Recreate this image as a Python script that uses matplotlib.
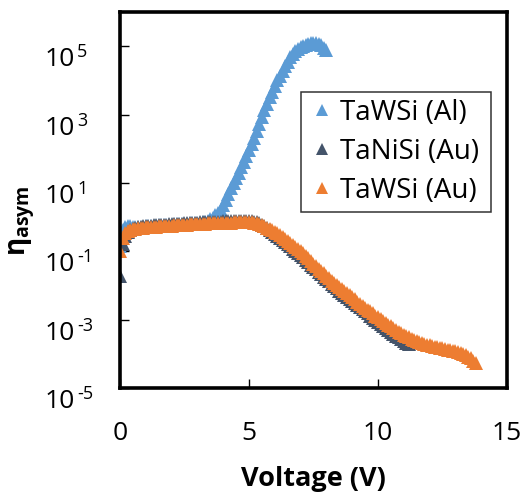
import numpy as np
import matplotlib
matplotlib.use("Agg")
import matplotlib.pyplot as plt
import matplotlib.transforms as mtransforms

plt.rcParams['font.family'] = ['Open Sans', 'DejaVu Sans']
plt.rcParams['mathtext.fontset'] = 'custom'
plt.rcParams['mathtext.rm'] = 'Open Sans'
plt.rcParams['mathtext.bf'] = 'Open Sans:bold'

# ---------------- data (log10 of eta_asym, 0.1 V steps) ----------------
labels = ["TaWSi (Al)", "TaNiSi (Au)", "TaWSi (Au)"]
colors = ["#5B9BD5", "#44546A", "#ED7D31"]

volt_tawsi_al = np.linspace(0.0, 8.0, 81)
log_eta_tawsi_al = [
    -0.85, -0.38, -0.30, -0.27, -0.27, -0.28, -0.29, -0.30, -0.29, -0.28,
    -0.27, -0.26, -0.26, -0.25, -0.25, -0.24, -0.24, -0.23, -0.23, -0.22,
    -0.22, -0.21, -0.21, -0.20, -0.20, -0.19, -0.19, -0.18, -0.18, -0.17,
    -0.17, -0.16, -0.15, -0.13, -0.11, -0.07, -0.02, 0.05, 0.13, 0.22,
    0.35, 0.50, 0.68, 0.85, 1.00, 1.15, 1.30, 1.46, 1.62, 1.78,
    1.95, 2.13, 2.32, 2.52, 2.72, 2.93, 3.13, 3.32, 3.50, 3.67,
    3.84, 4.00, 4.14, 4.28, 4.42, 4.55, 4.67, 4.77, 4.85, 4.92,
    4.97, 5.01, 5.04, 5.06, 5.08, 5.09, 5.09, 5.07, 5.02, 4.96,
    4.90,
]

volt_taNiSi_au = np.linspace(0.0, 11.2, 113)
log_eta_taNiSi_au = [
    -1.72, -0.78, -0.55, -0.45, -0.38, -0.34, -0.31, -0.29, -0.28, -0.27,
    -0.26, -0.25, -0.25, -0.24, -0.24, -0.23, -0.23, -0.22, -0.22, -0.21,
    -0.21, -0.20, -0.20, -0.19, -0.19, -0.18, -0.18, -0.17, -0.17, -0.16,
    -0.16, -0.15, -0.15, -0.15, -0.14, -0.14, -0.14, -0.13, -0.13, -0.13,
    -0.12, -0.12, -0.12, -0.11, -0.11, -0.11, -0.11, -0.11, -0.11, -0.11,
    -0.11, -0.12, -0.13, -0.15, -0.18, -0.22, -0.27, -0.32, -0.38, -0.44,
    -0.50, -0.56, -0.62, -0.68, -0.74, -0.80, -0.86, -0.92, -0.98, -1.05,
    -1.11, -1.18, -1.25, -1.32, -1.39, -1.46, -1.53, -1.60, -1.67, -1.74,
    -1.81, -1.88, -1.95, -2.02, -2.08, -2.15, -2.21, -2.27, -2.33, -2.40,
    -2.46, -2.52, -2.58, -2.64, -2.70, -2.76, -2.82, -2.88, -2.94, -3.00,
    -3.06, -3.12, -3.18, -3.24, -3.30, -3.36, -3.42, -3.47, -3.52, -3.57,
    -3.62, -3.67, -3.72,
]

volt_tawsi_au = np.linspace(0.0, 13.8, 139)
log_eta_tawsi_au = [
    -1.00, -0.62, -0.48, -0.42, -0.38, -0.36, -0.34, -0.33, -0.32, -0.31,
    -0.30, -0.29, -0.29, -0.28, -0.28, -0.27, -0.27, -0.26, -0.26, -0.25,
    -0.25, -0.24, -0.24, -0.23, -0.23, -0.22, -0.22, -0.21, -0.21, -0.20,
    -0.20, -0.20, -0.19, -0.19, -0.18, -0.18, -0.18, -0.17, -0.17, -0.17,
    -0.16, -0.16, -0.16, -0.16, -0.15, -0.15, -0.15, -0.15, -0.15, -0.15,
    -0.15, -0.15, -0.16, -0.17, -0.20, -0.23, -0.27, -0.31, -0.35, -0.39,
    -0.43, -0.47, -0.52, -0.57, -0.63, -0.69, -0.75, -0.81, -0.87, -0.93,
    -0.99, -1.06, -1.14, -1.21, -1.29, -1.37, -1.44, -1.51, -1.58, -1.65,
    -1.72, -1.79, -1.86, -1.93, -1.99, -2.05, -2.11, -2.17, -2.23, -2.29,
    -2.35, -2.41, -2.47, -2.53, -2.59, -2.65, -2.71, -2.76, -2.82, -2.88,
    -2.93, -2.99, -3.04, -3.10, -3.15, -3.20, -3.25, -3.30, -3.35, -3.40,
    -3.44, -3.48, -3.52, -3.56, -3.59, -3.62, -3.65, -3.68, -3.71, -3.73,
    -3.75, -3.77, -3.79, -3.80, -3.82, -3.84, -3.86, -3.88, -3.90, -3.91,
    -3.93, -3.95, -3.98, -4.01, -4.04, -4.08, -4.13, -4.20, -4.28,
]

x_ticks = [0, 5, 10, 15]
y_tick_exponents = [-5, -3, -1, 1, 3, 5]

# ---------------- figure ----------------
fig = plt.figure(figsize=(5.23, 4.93), dpi=100)
ax = fig.add_axes([0.2294, 0.2130, 0.7400, 0.7627])

series = [
    (volt_tawsi_al, log_eta_tawsi_al),
    (volt_taNiSi_au, log_eta_taNiSi_au),
    (volt_tawsi_au, log_eta_tawsi_au),
]
for (v, le), lab, c in zip(series, labels, colors):
    ax.plot(v, 10.0 ** np.asarray(le), linestyle='none', marker='^',
            markersize=9.7, color=c, markeredgewidth=0, label=lab)

ax.set_yscale('log')
ax.set_xlim(0, 15)
ax.set_ylim(1e-5, 1e6)
ax.set_xticks(x_ticks)
ax.set_xticklabels([str(t) for t in x_ticks])
ax.set_yticks([10.0 ** e for e in y_tick_exponents])
ax.set_yticklabels([])
ax.yaxis.set_minor_locator(matplotlib.ticker.NullLocator())

ax.tick_params(axis='both', direction='in', length=6.5, width=1,
               labelsize=19, color='black')
ax.tick_params(axis='x', pad=24)
for sp in ax.spines.values():
    sp.set_linewidth(2.6)

# y tick labels "10" with a raised exponent (hyphen style minus as in the reference)
blend = mtransforms.blended_transform_factory(ax.transAxes, ax.transData)
base_off = blend + mtransforms.ScaledTranslation(0, -20 / 100.0, fig.dpi_scale_trans)
sup_off = blend + mtransforms.ScaledTranslation(0, -11 / 100.0, fig.dpi_scale_trans)
for e in y_tick_exponents:
    ax.text(-0.1163, 10.0 ** e, '10', transform=base_off, ha='right',
            va='baseline', fontsize=19)
    ax.text(-0.1111, 10.0 ** e, str(e), transform=sup_off, ha='left',
            va='baseline', fontsize=13)

ax.set_xlabel('Voltage (V)', fontsize=19.5, fontweight='bold')
ax.xaxis.set_label_coords(0.5, -0.208)
ax.set_ylabel(r'η$_{\mathbf{asym}}$', fontsize=20, fontweight='bold')
ax.yaxis.set_label_coords(-0.2145, 0.444)

leg = ax.legend(loc='upper left', bbox_to_anchor=(0.4677, 0.5, 0.491, 0.287),
                mode='expand', borderaxespad=0, fontsize=20, frameon=True,
                fancybox=False, handlelength=1.0, handletextpad=0.15,
                labelspacing=0.39, borderpad=0.25, markerscale=0.9)
leg.get_frame().set_edgecolor('black')
leg.get_frame().set_linewidth(1.1)

fig.savefig('out.png', dpi=100)
